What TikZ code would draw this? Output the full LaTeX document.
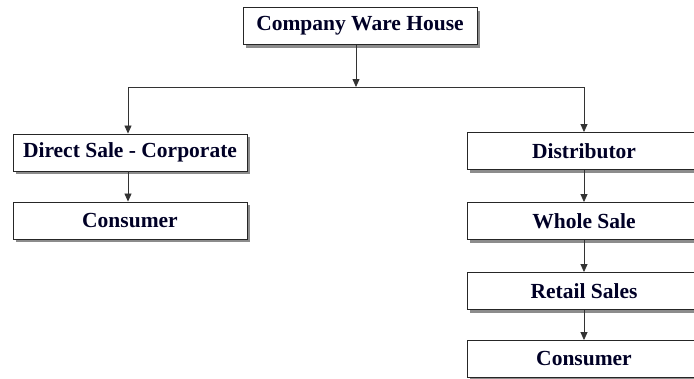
\documentclass[tikz,border=0pt]{standalone}
\usepackage{fontspec}
\setmainfont{Liberation Serif}
\usetikzlibrary{shadows,arrows.meta}
\begin{document}
\begin{tikzpicture}[x=1pt,y=-1pt,
  box/.style={draw=black!85,line width=0.9pt,fill=white,minimum width=234pt,minimum height=37pt,inner sep=0pt,
    font=\fontsize{21.5}{22}\selectfont\bfseries,text=black!85!blue,
    drop shadow={shadow xshift=3pt,shadow yshift=-3pt,fill=black!45,opacity=1}},
  conn/.style={draw=black!80,line width=0.8pt},
  arr/.style={conn,-{Triangle[length=8pt,width=7pt]}}]
\useasboundingbox (0,0) rectangle (694,378);
\begin{scope}
\clip (0,0) rectangle (694,378);
\node[box] (top) at (360,26) {Company Ware House};
\node[box] (dsc) at (130,152.5) {Direct Sale - Corporate};
\node[box] (lcon) at (130,220.5) {Consumer};
\node[box] (dist) at (584,151) {Distributor};
\node[box] (whole) at (584,221) {Whole Sale};
\node[box] (retail) at (584,291) {Retail Sales};
\node[box] (rcon) at (584,359) {Consumer};
\coordinate (mid) at (356,87);
\coordinate (lc) at (128,87);
\coordinate (rc) at (584,87);
\draw[arr] (top.south -| mid) -- (mid);
\draw[conn] (lc) -- (rc);
\draw[arr] (lc) -- (lc |- dsc.north);
\draw[arr] (rc) -- (dist.north);
\draw[arr] (dsc.south -| lc) -- (lcon.north -| lc);
\draw[arr] (dist.south) -- (whole.north);
\draw[arr] (whole.south) -- (retail.north);
\draw[arr] (retail.south) -- (rcon.north);
\end{scope}
\end{tikzpicture}
\end{document}
